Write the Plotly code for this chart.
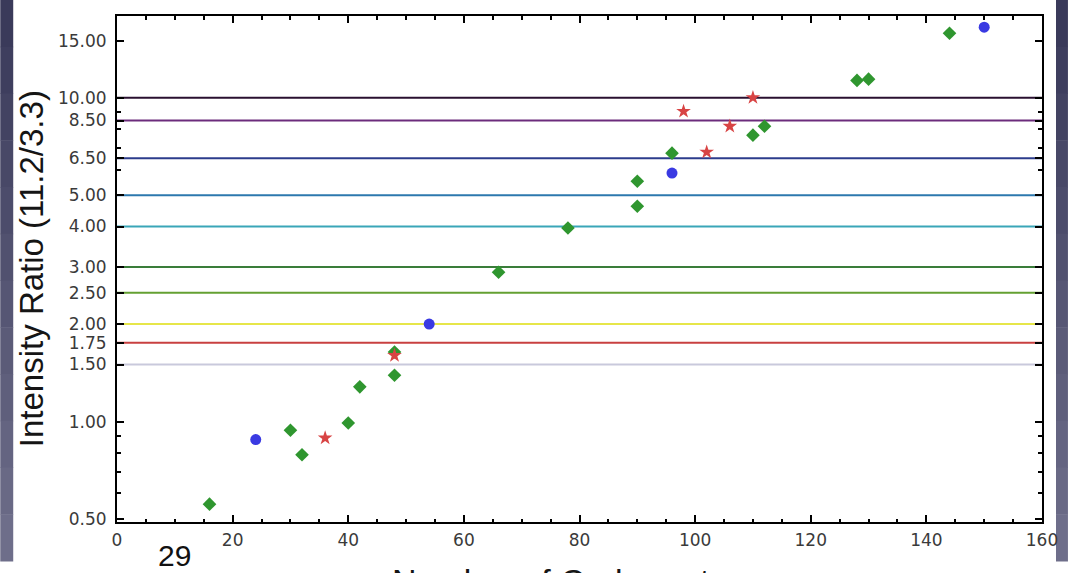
import plotly.graph_objects as go

# ---------------- data ----------------
green_x = [16, 30, 32, 40, 42, 48, 48, 66, 78, 90, 90, 96, 110, 112, 128, 130, 144]
green_y = [0.556, 0.94, 0.79, 0.99, 1.28, 1.39, 1.64, 2.89, 3.96, 4.62, 5.52, 6.74, 7.66, 8.16, 11.3, 11.4, 15.8]

blue_x = [24, 54, 96, 150]
blue_y = [0.88, 2.0, 5.85, 16.5]

red_x = [36, 48, 98, 102, 106, 110]
red_y = [0.89, 1.60, 9.07, 6.79, 8.16, 10.0]

level_values = [1.5, 1.75, 2.0, 2.5, 3.0, 4.0, 5.0, 6.5, 8.5, 10.0]
level_colors = ["#c9c9dc", "#c84040", "#e6e64a", "#64a032", "#3a7d3a",
                "#3aa6b8", "#2c78ae", "#2c3c8c", "#6c2c7c", "#2a1030"]

y_tick_vals = [0.5, 1.0, 1.5, 1.75, 2.0, 2.5, 3.0, 4.0, 5.0, 6.5, 8.5, 10.0, 15.0]
y_tick_text = ["0.50", "1.00", "1.50", "1.75", "2.00", "2.50", "3.00", "4.00",
               "5.00", "6.50", "8.50", "10.00", "15.00"]
y_minor_vals = [0.6, 0.7, 0.8, 0.9, 2, 3, 4, 5, 6, 7, 8, 9]

x_range = [0, 160]
x_label = "Number of Carbon atoms"
y_label = "Intensity Ratio (11.2/3.3)"
slide_number = "29"

# ---------------- figure ----------------
fig = go.Figure()

for v, c in zip(level_values, level_colors):
    fig.add_trace(go.Scatter(x=x_range, y=[v, v], mode="lines",
                             line=dict(color=c, width=2), hoverinfo="skip",
                             showlegend=False))

fig.add_trace(go.Scatter(x=green_x, y=green_y, mode="markers",
                         marker=dict(symbol="diamond", size=10.5, color="#2f962f"),
                         showlegend=False))
fig.add_trace(go.Scatter(x=blue_x, y=blue_y, mode="markers",
                         marker=dict(symbol="circle", size=11, color="#3a3ae2"),
                         showlegend=False))
fig.add_trace(go.Scatter(x=red_x, y=red_y, mode="markers",
                         marker=dict(symbol="star", size=11, color="#d84444"),
                         showlegend=False))

L, R, T, B = 117, 26, 16, 51
W, H = 1070, 573
pw, ph = W - L - R, H - T - B


def px2paper_x(px):
    return (px - L) / pw


def px2paper_y(py):
    return (H - B - py) / ph


# dark slide edges (gradient approximated by bands)
shapes = []
n_bands = 12
top_rgb = (58, 58, 90)
bot_rgb = (110, 110, 138)
y_top, y_bot = 0, 561
for i in range(n_bands):
    f = i / (n_bands - 1)
    col = "rgb(%d,%d,%d)" % tuple(int(a + (b - a) * f) for a, b in zip(top_rgb, bot_rgb))
    ya = y_top + (y_bot - y_top) * i / n_bands
    yb = y_top + (y_bot - y_top) * (i + 1) / n_bands
    for xa, xb in [(0, 13), (1058, 1070)]:
        shapes.append(dict(type="rect", xref="paper", yref="paper",
                           x0=px2paper_x(xa), x1=px2paper_x(xb),
                           y0=px2paper_y(yb + 0.5), y1=px2paper_y(ya),
                           fillcolor=col, line=dict(width=0), layer="below"))

fig.update_layout(
    width=W, height=H,
    margin=dict(l=L, r=R, t=T, b=B),
    paper_bgcolor="white", plot_bgcolor="white",
    shapes=shapes,
    showlegend=False,
    font=dict(family="DejaVu Sans", color="#333333"),
)

fig.update_xaxes(
    range=x_range, showgrid=False, zeroline=False,
    showline=True, linecolor="black", linewidth=2, mirror="ticks",
    ticks="inside", ticklen=7, tickwidth=1.5, tickcolor="black",
    tick0=0, dtick=20,
    minor=dict(ticks="inside", ticklen=3.5, tickwidth=1.5, tickcolor="black", dtick=5, tick0=0),
    tickfont=dict(family="DejaVu Sans", size=17, color="#3a3a3a"),
    ticklabelstandoff=2,
)
fig.update_yaxes(
    type="log", range=[-0.31, 1.252], showgrid=False, zeroline=False,
    showline=True, linecolor="black", linewidth=2, mirror="ticks",
    ticks="inside", ticklen=7, tickwidth=1.5, tickcolor="black",
    tickmode="array", tickvals=y_tick_vals, ticktext=y_tick_text,
    minor=dict(ticks="inside", ticklen=4, tickwidth=1.5, tickcolor="black",
               tickmode="array", tickvals=y_minor_vals),
    tickfont=dict(family="DejaVu Sans", size=17, color="#3a3a3a"),
    ticklabelstandoff=5,
)

fig.add_annotation(text=y_label, xref="paper", yref="paper",
                   x=px2paper_x(31), y=px2paper_y(269), xanchor="center", yanchor="middle",
                   textangle=-90, showarrow=False,
                   font=dict(family="Liberation Sans", size=33, color="#151515"))
fig.add_annotation(text=x_label, xref="paper", yref="paper",
                   x=px2paper_x(584), y=px2paper_y(560), xanchor="center", yanchor="top",
                   showarrow=False,
                   font=dict(family="Liberation Sans", size=34, color="#151515"))
fig.add_annotation(text=slide_number, xref="paper", yref="paper",
                   x=px2paper_x(175), y=px2paper_y(555), xanchor="center", yanchor="middle",
                   showarrow=False,
                   font=dict(family="Liberation Sans", size=30, color="#111111"))

fig.write_html("out.html")
